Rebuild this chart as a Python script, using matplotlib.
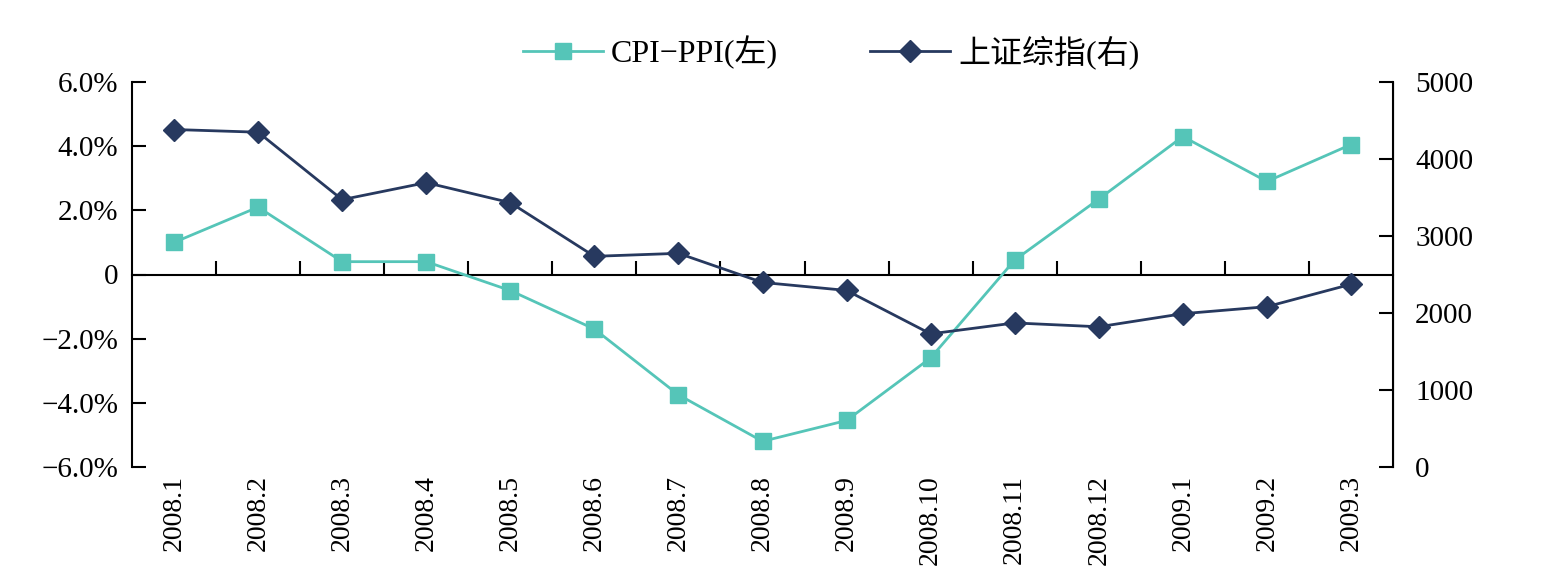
import matplotlib
matplotlib.use("Agg")
import matplotlib.pyplot as plt
from matplotlib.ticker import FixedLocator, FixedFormatter

plt.rcParams['font.family'] = ['Liberation Serif', 'Noto Sans CJK SC']
plt.rcParams['axes.unicode_minus'] = True

# 数据
months = ['2008.1', '2008.2', '2008.3', '2008.4', '2008.5', '2008.6', '2008.7',
          '2008.8', '2008.9', '2008.10', '2008.11', '2008.12', '2009.1',
          '2009.2', '2009.3']
cpi_ppi = [1.0, 2.1, 0.4, 0.4, -0.5, -1.7, -3.75, -5.2, -4.55, -2.6, 0.45,
           2.35, 4.3, 2.9, 4.05]
sh_index = [4383, 4348, 3472, 3693, 3433, 2736, 2775, 2397, 2293, 1729, 1871,
            1821, 1991, 2082, 2373]
left_ticks = [-6, -4, -2, 0, 2, 4, 6]
left_labels = ['\u22126.0%', '\u22124.0%', '\u22122.0%', '0', '2.0%', '4.0%', '6.0%']
right_ticks = [0, 1000, 2000, 3000, 4000, 5000]

teal = '#55C5B8'
navy = '#27395F'

fig = plt.figure(figsize=(15.5, 5.85), dpi=100)
ax = fig.add_axes([132 / 1550, 1 - 467 / 585, (1393 - 132) / 1550, (467 - 82) / 585])
ax2 = ax.twinx()

x = range(len(months))
l1, = ax.plot(x, cpi_ppi, color=teal, lw=2, marker='s', ms=12,
              label='CPI\u2212PPI(左)', zorder=3)
l2, = ax2.plot(x, sh_index, color=navy, lw=2, marker='D', ms=11,
               label='上证综指(右)', zorder=3)

ax.set_xlim(-0.5, len(months) - 0.5)
ax.set_ylim(-6, 6)
ax2.set_ylim(0, 5000)

# 左右两轴
ax.yaxis.set_major_locator(FixedLocator(left_ticks))
ax.yaxis.set_major_formatter(FixedFormatter(left_labels))
ax.tick_params(axis='y', direction='in', length=10, width=1.5, labelsize=21, pad=10)
ax2.set_yticks(right_ticks)
ax2.tick_params(axis='y', direction='in', length=10, width=1.5, labelsize=21, pad=16)

# 横轴在 0 处
ax.spines['bottom'].set_position(('data', 0))
ax.set_xticks([i + 0.5 for i in range(len(months) - 1)])
ax.tick_params(axis='x', direction='in', length=10, width=1.5, labelbottom=False)
for a in (ax, ax2):
    a.spines['top'].set_visible(False)
    a.spines['bottom'].set_visible(a is ax)
for sp in ('left', 'bottom'):
    ax.spines[sp].set_linewidth(1.5)
ax2.spines['right'].set_linewidth(1.5)
ax2.spines['left'].set_visible(False)

# 月份标签放在底部
sec = ax.secondary_xaxis('bottom')
sec.spines['bottom'].set_visible(False)
sec.set_xticks(list(x))
sec.set_xticklabels(months, rotation=90, fontsize=20)
sec.tick_params(axis='x', length=0, pad=6)

fig.legend(handles=[l1, l2], loc='center', bbox_to_anchor=(831 / 1550, 1 - 52 / 585),
           ncol=2, frameon=False, fontsize=23, columnspacing=2.9, handlelength=2.5,
           handletextpad=0.25)

fig.savefig('out.png', dpi=100)
